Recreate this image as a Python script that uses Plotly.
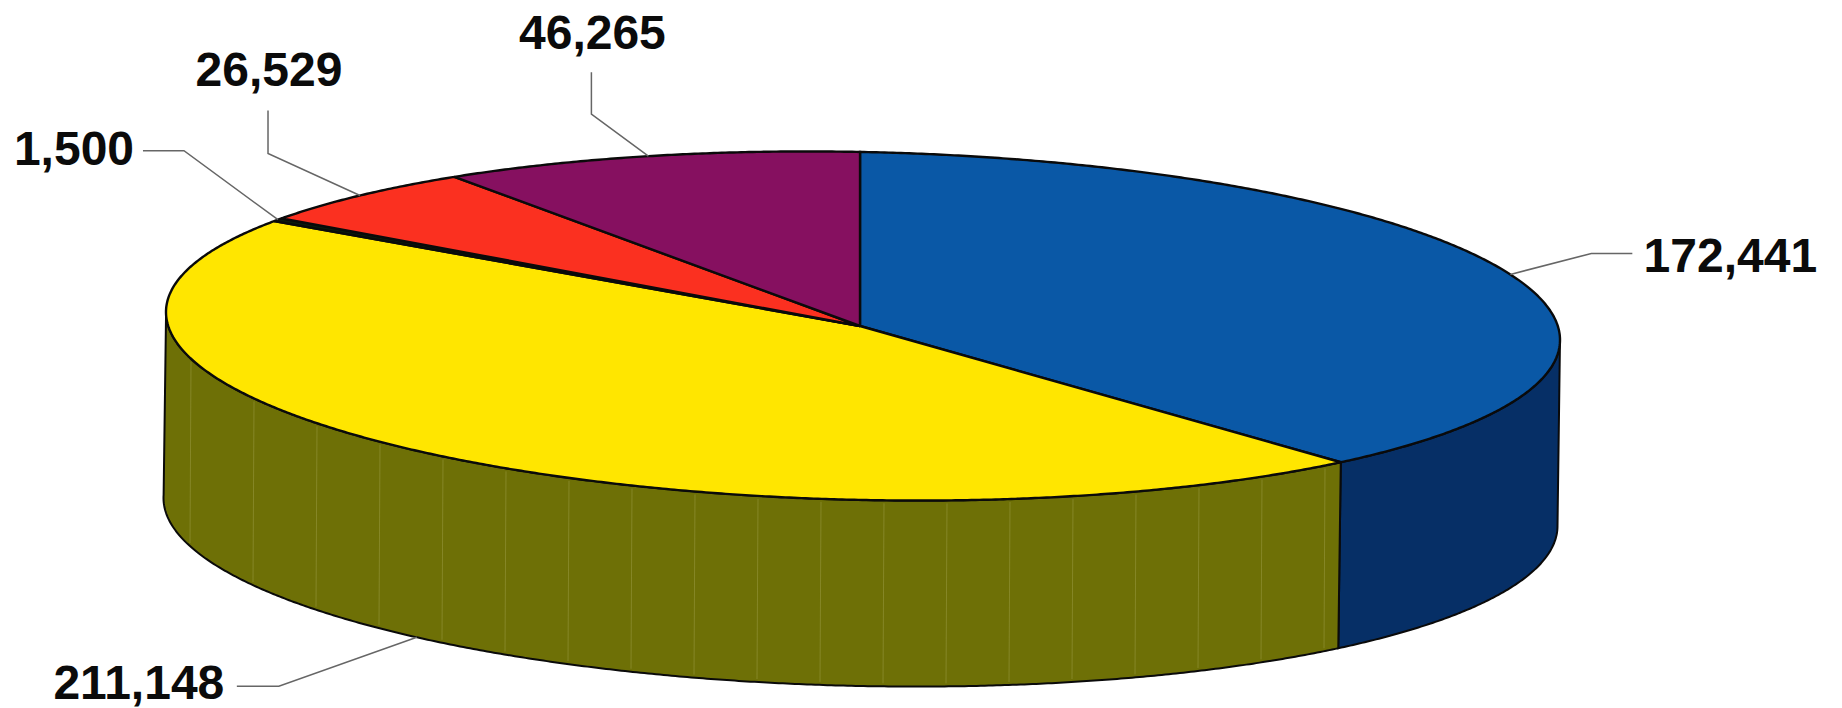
import numpy as np
import plotly.graph_objects as go

# ---- data (clockwise from 12 o'clock) ----
slice_names = ["Blue", "Yellow", "Thin", "Red", "Purple"]
slice_values = [172441, 211148, 1500, 26529, 46265]

# ---- styles ----
top_colors = ["#0a58a6", "#ffe600", "#0c1a0c", "#fb3020", "#861060"]
wall_colors = {"Blue": "#062f66", "Yellow": "#6e7006"}
edge = "#0a0a0a"
leader_color = "#666666"

# ---- layout geometry of the drawn disc (pixel-unit axes) ----
W, H = 1842, 708
CX, CY, RX, RY = 863.0, 326.0, 697.0, 174.0
APEX = (860.0, 326.0)
SHEAR = 0.02
DEPTH = 186.0
DEPTH_DX = -2.5
START = -0.25
# small view-angle correction of the drawn disc
WARP_AT = [0, 135, 302, 342, 360]
WARP_BY = [0, 1.4, 1.0, 0.5, 0]

# label offset from its slice anchor: elbow, line end, label centre
callouts = {
    "Blue": dict(elbow=(81, -21), end=(122, -21), text=(220, -14), wall=False),
    "Yellow": dict(elbow=(-138, 49), end=(-180, 49), text=(-278, 50), wall=True),
    "Thin": dict(elbow=(-94, -69), end=(-135, -69), text=(-204, -67), wall=False),
    "Red": dict(elbow=(-92, -42), end=(-92, -85), text=(-91, -121), wall=False),
    "Purple": dict(elbow=(-57, -42), end=(-57, -84), text=(-56, -119), wall=False),
}


def rim(theta_deg, wall=False):
    th = np.asarray(theta_deg, dtype=float)
    t = np.radians(th + np.interp(np.mod(th, 360.0), WARP_AT, WARP_BY))
    x = CX + RX * np.sin(t)
    y = CY - RY * np.cos(t) + SHEAR * (x - CX)
    if wall:
        x = x + DEPTH_DX
        y = y + DEPTH
    return x, y


def arc(a, b, wall=False):
    n = max(int(abs(b - a) * 3), 2)
    return rim(np.linspace(a, b, n), wall)


total = sum(slice_values)
edges = START + np.concatenate([[0], np.cumsum(slice_values)]) * 360.0 / total
start = dict(zip(slice_names, edges[:-1]))
stop = dict(zip(slice_names, edges[1:]))

fig = go.Figure()


def poly(x, y, fill, width=2.0, color=edge):
    fig.add_trace(go.Scatter(x=x, y=y, mode="lines", fill="toself", fillcolor=fill,
                             line=dict(color=color, width=width, simplify=False),
                             hoverinfo="skip", showlegend=False))


# ---- side walls (only the front half of the disc is visible) ----
wall_spans = {"Blue": (89.0, stop["Blue"]), "Yellow": (stop["Blue"], 270.0)}
for name, (a, b) in wall_spans.items():
    tx, ty = arc(a, b)
    bx, by = arc(a, b, wall=True)
    poly(np.concatenate([tx, bx[::-1], tx[:1]]), np.concatenate([ty, by[::-1], ty[:1]]),
         wall_colors[name])

# ---- faint vertical stripes on the olive wall ----
a, b = wall_spans["Yellow"]
tx, ty = arc(a, b)
bx, by = arc(a, b, wall=True)
sx, sy = [], []
for px in np.arange(191.0, float(tx[0]) - 10, 63.0):
    sx += [px, px - 1, None]
    sy += [float(np.interp(px, tx[::-1], ty[::-1])) + 3,
           float(np.interp(px - 1, bx[::-1], by[::-1])) - 3, None]
fig.add_trace(go.Scatter(x=sx, y=sy, mode="lines", hoverinfo="skip", showlegend=False,
                         line=dict(color="rgba(170,170,90,0.4)", width=1)))

# ---- top face ----
for name, color, a, b in zip(slice_names, top_colors, edges[:-1], edges[1:]):
    ax, ay = arc(a, b)
    poly(np.concatenate([[APEX[0]], ax, [APEX[0]]]), np.concatenate([[APEX[1]], ay, [APEX[1]]]),
         color, width=2.4)

# ---- leader lines and value labels ----
lx, ly, tx_, ty_, txt = [], [], [], [], []
for name, value in zip(slice_names, slice_values):
    c = callouts[name]
    ax, ay = rim((start[name] + stop[name]) / 2.0, c["wall"])
    ax, ay = float(ax), float(ay)
    lx += [ax, ax + c["elbow"][0], ax + c["end"][0], None]
    ly += [ay, ay + c["elbow"][1], ay + c["end"][1], None]
    tx_.append(ax + c["text"][0])
    ty_.append(ay + c["text"][1])
    txt.append(f"{value:,}")

fig.add_trace(go.Scatter(x=lx, y=ly, mode="lines", hoverinfo="skip", showlegend=False,
                         line=dict(color=leader_color, width=1.5)))
fig.add_trace(go.Scatter(x=tx_, y=ty_, mode="text", text=txt, textposition="middle center",
                         hoverinfo="skip", showlegend=False,
                         textfont=dict(family="Liberation Sans", size=48, color="#0b0b0b",
                                       weight=700)))

fig.update_layout(width=W, height=H, margin=dict(l=0, r=0, t=0, b=0),
                  paper_bgcolor="white", plot_bgcolor="white",
                  xaxis=dict(range=[0, W], visible=False, fixedrange=True),
                  yaxis=dict(range=[H, 0], visible=False, fixedrange=True))

fig.write_html("out.html", config={"displayModeBar": False},
               post_script="document.body.style.margin='0';document.body.style.overflow='hidden';")
